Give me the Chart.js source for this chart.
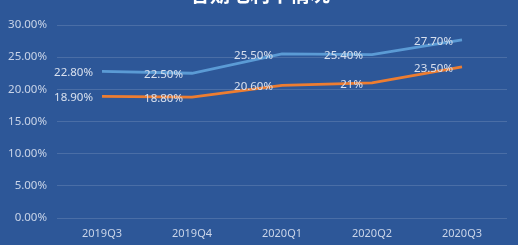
<!DOCTYPE html>
<html>
<head>
<meta charset="utf-8">
<script src="https://cdn.jsdelivr.net/npm/chart.js@4"></script>
<style>
html,body{margin:0;padding:0;background:#2D5798;}
#wrap{position:relative;width:518px;height:245px;overflow:hidden;background:#2D5798;}
#title{position:absolute;left:0;width:520px;top:-17px;text-align:center;color:#fff;font:bold 20px "Noto Sans CJK SC";line-height:22px;}
canvas{position:absolute;left:0;top:0;}
</style>
</head>
<body>
<div id="wrap">
<canvas id="c" width="518" height="245"></canvas>
<div id="title">各期毛利率情况</div>
</div>
<script>
const categories = ['2019Q3','2019Q4','2020Q1','2020Q2','2020Q3'];
const seriesA = [22.8, 22.5, 25.5, 25.4, 27.7];
const seriesB = [18.9, 18.8, 20.6, 21, 23.5];
const labelsA = ['22.80%','22.50%','25.50%','25.40%','27.70%'];
const labelsB = ['18.90%','18.80%','20.60%','21%','23.50%'];
const yTicks = [0,5,10,15,20,25,30];

const pointLabels = {
  id:'pointLabels',
  afterDatasetsDraw(chart){
    const ctx = chart.ctx;
    ctx.save();
    ctx.font = '11.5px "Noto Sans"';
    ctx.fillStyle = '#D8E0EE';
    ctx.textAlign = 'right';
    ctx.textBaseline = 'middle';
    chart.data.datasets.forEach((ds,i)=>{
      const meta = chart.getDatasetMeta(i);
      meta.data.forEach((pt,j)=>{
        ctx.fillText(ds.pointText[j], pt.x - 9, pt.y + 1.5);
      });
    });
    ctx.restore();
  }
};

new Chart(document.getElementById('c'), {
  type:'line',
  data:{
    labels:categories,
    datasets:[
      {data:seriesA, pointText:labelsA, borderColor:'#5B9BD5', borderWidth:2.8, pointRadius:0, tension:0, fill:false},
      {data:seriesB, pointText:labelsB, borderColor:'#ED7D31', borderWidth:2.8, pointRadius:0, tension:0, fill:false}
    ]
  },
  options:{
    responsive:false,
    animation:false,
    layout:{padding:{top:25,right:11,left:0,bottom:0}},
    plugins:{legend:{display:false},tooltip:{enabled:false},title:{display:false}},
    scales:{
      x:{
        offset:true,
        grid:{display:false,drawTicks:false},
        border:{display:false},
        ticks:{color:'#C9D4E8',font:{family:'Noto Sans',size:11},padding:9,maxRotation:0},
        afterFit(s){s.height=27;}
      },
      y:{
        min:0,max:30,
        afterBuildTicks(s){s.ticks = yTicks.map(v=>({value:v}));},
        grid:{color:'rgba(255,255,255,0.14)',drawTicks:false,lineWidth:1},
        border:{display:false},
        ticks:{color:'#C9D4E8',font:{family:'Noto Sans',size:11.5},padding:10,callback:v=>v.toFixed(2)+'%'},
        afterFit(s){s.width=57;}
      }
    }
  },
  plugins:[pointLabels]
});
</script>
</body>
</html>
